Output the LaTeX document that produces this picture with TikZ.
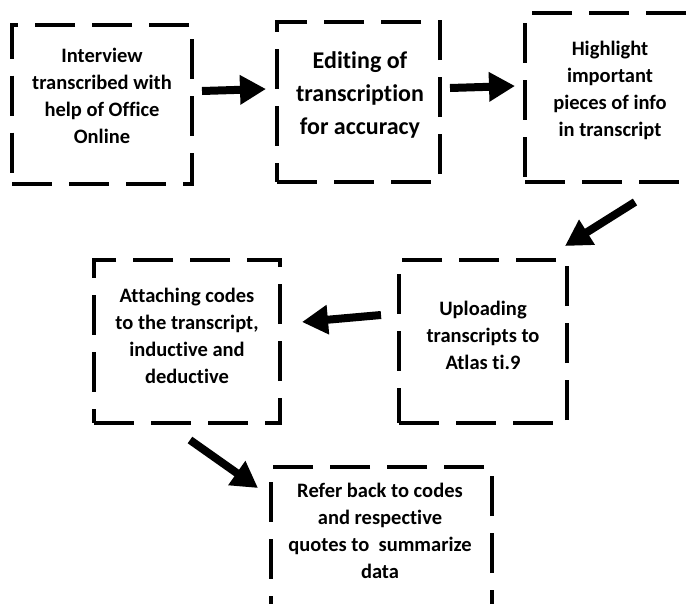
\documentclass[tikz,border=0pt]{standalone}
\usepackage{fontspec}
\setmainfont{Carlito}[Ligatures={NoCommon,NoDiscretionary,NoContextual}]
\usetikzlibrary{arrows.meta}
\begin{document}
\begin{tikzpicture}[x=1pt,y=-1pt,
  stepbox/.style={draw, line width=4pt, dash pattern=on 40pt off 17pt, inner sep=0pt},
  steptext/.style={align=center, font=\bfseries\fontsize{20.5}{27}\selectfont},
  bigtext/.style={align=center, font=\bfseries\fontsize{24}{33}\selectfont},
  arr/.style={line width=8pt, -{Triangle[length=26pt,width=28pt]}}]
\useasboundingbox (0,0) rectangle (688,603);
\clip (0,0) rectangle (688,603);
% boxes
\node[stepbox, minimum width=180pt, minimum height=159pt] (b1) at (102,104) {};
\node[stepbox, minimum width=163pt, minimum height=160pt] (b2) at (358.5,102) {};
\node[stepbox, minimum width=167pt, minimum height=169pt] (b3) at (608.5,97.5) {};
\node[stepbox, minimum width=186pt, minimum height=163pt] (b4) at (187,341.5) {};
\node[stepbox, minimum width=168pt, minimum height=163pt] (b5) at (483,341.5) {};
\node[stepbox, minimum width=221pt, minimum height=170pt] (b6) at (381.5,552) {};
% texts
\node[steptext] (t1) at (102,96) {Interview\\transcribed with\\help of Office\\Online};
\node[bigtext] (t2) at (360,95) {Editing of\\transcription\\for accuracy};
\node[steptext] (t3) at (610,90) {Highlight\\important\\pieces of info\\in transcript};
\node[steptext] (t4) at (187,336) {Attaching codes\\to the transcript,\\inductive and\\deductive};
\node[steptext] (t5) at (483,335) {Uploading\\transcripts to\\Atlas ti.9};
\node[steptext] (t6) at (380,531) {Refer back to codes\\and respective\\quotes to~ summarize\\data};
% arrows
\draw[arr] ([shift={(8,-13)}]b1.east) -- ([shift={(-9,-13)}]b2.west);
\draw[arr] ([shift={(8,-14)}]b2.east) -- ([shift={(-8,-11.5)}]b3.west);
\draw[arr] ([shift={(26.5,18)}]b3.south) -- ([shift={(-4,-12)}]b5.north east);
\draw[arr] ([shift={(-16,-26.5)}]b5.west) -- ([shift={(20,-19.5)}]b4.west -| b4.east);
\draw[arr] ([shift={(3,15)}]b4.south) -- ([shift={(-11,23)}]b6.north west);
\end{tikzpicture}
\end{document}
